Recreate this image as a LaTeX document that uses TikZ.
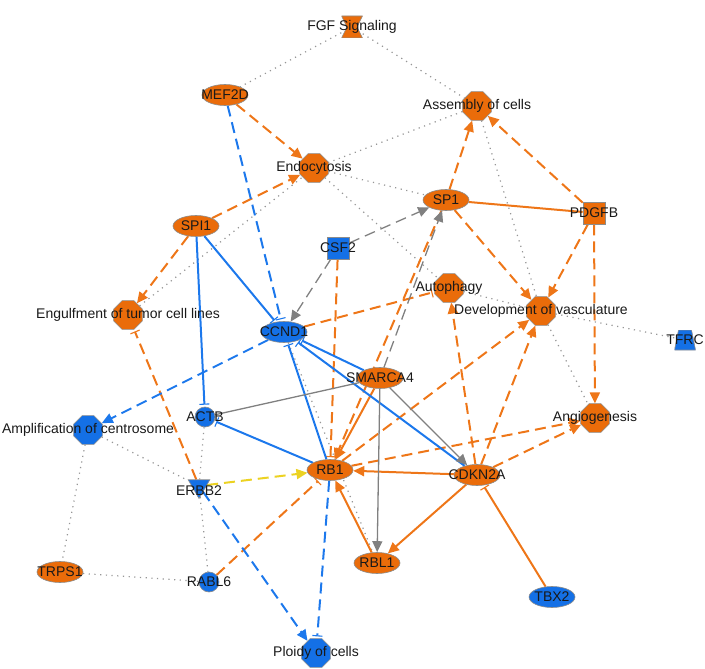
\documentclass[tikz,border=0pt]{standalone}
\usepackage{fontspec}
\setmainfont{Liberation Sans}
\usetikzlibrary{positioning}
\usetikzlibrary{shapes.geometric}
\usetikzlibrary{arrows.meta}
\definecolor{ipaorange}{RGB}{234,108,10}
\definecolor{ipablue}{RGB}{20,112,230}
\definecolor{lineorange}{RGB}{238,118,24}
\definecolor{lineblue}{RGB}{28,120,236}
\definecolor{linegray}{RGB}{128,128,128}
\definecolor{dotgray}{RGB}{150,150,150}
\definecolor{lineyellow}{RGB}{236,210,34}
\definecolor{rim}{RGB}{140,140,140}
\definecolor{ink}{RGB}{25,25,25}
\pgfdeclarelayer{edges}
\pgfsetlayers{edges,main}

\begin{document}
\begin{tikzpicture}
[x=1pt,y=-1pt,
  every label/.style={font=\fontsize{14}{16}\selectfont,text=ink,inner sep=0pt},
  shp/.style={draw=rim,line width=0.6pt,inner sep=0pt},
  up/.style={fill=ipaorange},
  down/.style={fill=ipablue},
  gene/.style={shp,ellipse,minimum width=46pt,minimum height=21pt},
  func/.style={shp,regular polygon,regular polygon sides=8,minimum size=31pt},
  sq/.style={shp,rectangle,minimum size=22pt},
  dot/.style={shp,circle,minimum size=20pt},
  kinase/.style={shp,regular polygon,regular polygon sides=3,shape border rotate=180,minimum size=25pt},
  trap/.style={inner sep=0pt,minimum width=21pt,minimum height=20pt,
    path picture={\filldraw[fill=ipablue,draw=rim,line width=0.6pt]
      (path picture bounding box.south west) -- (path picture bounding box.south east)
      -- ([xshift=-4pt]path picture bounding box.north east)
      -- ([xshift=4pt]path picture bounding box.north west) -- cycle;}},
  hourglass/.style={inner sep=0pt,minimum width=21pt,minimum height=22pt,
    path picture={\filldraw[fill=ipaorange,draw=rim,line width=0.6pt]
      (path picture bounding box.north west) -- (path picture bounding box.north east)
      -- ([xshift=5pt]path picture bounding box.center) -- (path picture bounding box.south east)
      -- (path picture bounding box.south west) -- ([xshift=-5pt]path picture bounding box.center) -- cycle;}},
  rel/.style={line width=2pt},
  oline/.style={rel,lineorange},
  bline/.style={rel,lineblue},
  gline/.style={line width=1.3pt,linegray},
  yline/.style={rel,lineyellow},
  dsh/.style={dash pattern=on 11pt off 6pt},
  act/.style={-{Triangle[length=11pt,width=10pt]}},
  inh/.style={-{Bar[width=10pt,line width=1.1pt]},shorten >=2pt},
  assoc/.style={dotgray,line width=1.2pt,dash pattern=on 1.2pt off 4.5pt}]

\useasboundingbox (0,0) rectangle (705,669);

\node[hourglass,label=center:FGF Signaling] (fgf) at (352,27) {};
\node[gene,up,label=center:MEF2D] (mef2d) at (225,95) {};
\node[func,up,label=center:Assembly of cells] (assembly) at (477,106) {};
\node[func,up,label=center:Endocytosis] (endo) at (314,168) {};
\node[gene,up,label=center:SP1] (sp1) at (446,200) {};
\node[sq,up,label=center:PDGFB] (pdgfb) at (594,213) {};
\node[gene,up,label=center:SPI1] (spi1) at (196,226) {};
\node[sq,down,label=center:CSF2] (csf2) at (338,248) {};
\node[func,up,label=center:Autophagy] (autoph) at (449,288) {};
\node[func,up,label=center:Development of vasculature] (vasc) at (541,311) {};
\node[trap,label=center:TFRC] (tfrc) at (685,340) {};
\node[func,up,label=center:Engulfment of tumor cell lines] (engulf) at (128,315) {};
\node[gene,down,label=center:CCND1] (ccnd1) at (284,332) {};
\node[gene,up,label=center:SMARCA4] (smarca4) at (380,378) {};
\node[func,down,label=center:Amplification of centrosome] (centro) at (88,430) {};
\node[dot,down,label=center:ACTB] (actb) at (205,417) {};
\node[func,up,label=center:Angiogenesis] (angio) at (595,418) {};
\node[gene,up,label=center:RB1] (rb1) at (330,470) {};
\node[gene,up,label=center:CDKN2A] (cdkn2a) at (477,475) {};
\node[kinase,down,label={[yshift=-5pt]center:ERBB2}] (erbb2) at (199,486) {};
\node[gene,up,label=center:TRPS1] (trps1) at (60,572) {};
\node[dot,down,label=center:RABL6] (rabl6) at (209,582) {};
\node[gene,up,label=center:RBL1] (rbl1) at (377,563) {};
\node[gene,down,label=center:TBX2] (tbx2) at (552,597) {};
\node[func,down,label=center:Ploidy of cells] (ploidy) at (316,653) {};

\begin{pgfonlayer}{edges}
\draw[assoc] (fgf) -- (mef2d);
\draw[assoc] (fgf) -- (assembly);
\draw[assoc] (assembly) -- (endo);
\draw[assoc] (endo) -- (sp1);
\draw[assoc] (endo) -- (autoph);
\draw[assoc] (engulf) -- (endo);
\draw[assoc] (assembly) -- (vasc);
\draw[assoc] (autoph) -- (vasc);
\draw[assoc] (vasc) -- (tfrc);
\draw[assoc] (vasc) -- (angio);
\draw[assoc] (ccnd1) -- (rbl1);
\draw[assoc] (centro) -- (erbb2);
\draw[assoc] (centro) -- (trps1);
\draw[assoc] (trps1) -- (rabl6);
\draw[assoc] (actb) -- (erbb2);
\draw[assoc] (erbb2) -- (rabl6);

\draw[oline,dsh,act] (mef2d) -- (endo);
\draw[oline,dsh,act] (spi1) -- (endo);
\draw[oline,dsh,act] (spi1) -- (engulf);
\draw[oline,dsh,act] (sp1) -- (assembly);
\draw[oline,dsh,act] (pdgfb) -- (assembly);
\draw[oline,dsh,act] (sp1) -- (vasc);
\draw[oline,dsh,act] (pdgfb) -- (vasc);
\draw[oline,dsh,act] (pdgfb) -- (angio);
\draw[oline,dsh,act] (sp1) -- (rb1);
\draw[oline,dsh,act] (rb1) -- (vasc);
\draw[oline,dsh,act] (rb1) -- (angio);
\draw[oline,dsh,act] (cdkn2a) -- (angio);
\draw[oline,dsh,act] (cdkn2a) -- (vasc);
\draw[oline,dsh,act] (cdkn2a) -- (autoph);
\draw[oline,dsh,inh] (csf2) -- (rb1);
\draw[oline,dsh,inh] (rabl6) -- (rb1);
\draw[oline,dsh,inh] (ccnd1) -- (autoph);
\draw[oline,dsh,inh] (erbb2) -- (engulf);

\draw[oline] (sp1) -- (pdgfb);
\draw[oline,act] (smarca4) -- (rb1);
\draw[oline,act] (cdkn2a) -- (rb1);
\draw[oline,act] (cdkn2a) -- (rbl1);
\draw[oline,act] (rbl1) -- (rb1);
\draw[oline,inh] (tbx2) -- (cdkn2a);

\draw[bline,inh] (spi1) -- (ccnd1);
\draw[bline,inh] (spi1) -- (actb);
\draw[bline,inh] (rb1) -- (ccnd1);
\draw[bline,inh] (smarca4) -- (ccnd1);
\draw[bline,inh] (cdkn2a) -- (ccnd1);
\draw[bline,inh] (rb1) -- (actb);
\draw[bline,dsh,inh] (mef2d) -- (ccnd1);
\draw[bline,dsh,act] (ccnd1) -- (centro);
\draw[bline,dsh,inh] (rb1) -- (ploidy);
\draw[bline,dsh,act] (erbb2) -- (ploidy);

\draw[gline,dsh,act] (csf2) -- (ccnd1);
\draw[gline,dsh,act] (csf2) -- (sp1);
\draw[gline,dsh,act] (smarca4) -- (sp1);
\draw[gline,act] (smarca4) -- (cdkn2a);
\draw[gline,act] (smarca4) -- (rbl1);
\draw[gline] (smarca4) -- (actb);

\draw[yline,dsh,act] (erbb2) -- (rb1);
\end{pgfonlayer}
\end{tikzpicture}
\end{document}
